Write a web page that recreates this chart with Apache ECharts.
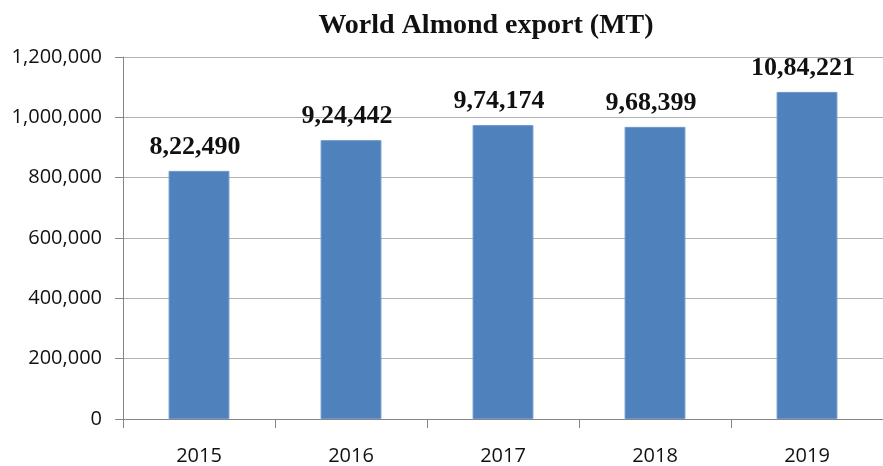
<!DOCTYPE html>
<html>
<head>
<meta charset="utf-8">
<script src="https://cdn.jsdelivr.net/npm/echarts@6/dist/echarts.min.js"></script>
<style>html,body{margin:0;padding:0;background:#fff}#c{width:883px;height:466px}</style>
</head>
<body>
<div id="c"></div>
<script>
const categories = ['2015', '2016', '2017', '2018', '2019'];
const exportsMT = [822490, 924442, 974174, 968399, 1084221];
const yTicks = { min: 0, max: 1200000, interval: 200000 };

function indian(n) {
  const s = String(Math.round(n));
  if (s.length <= 3) return s;
  let last3 = s.slice(-3), rest = s.slice(0, -3);
  rest = rest.replace(/\B(?=(\d{2})+(?!\d))/g, ',');
  return rest + ',' + last3;
}
function western(n) {
  return String(n).replace(/\B(?=(\d{3})+(?!\d))/g, ',');
}

const chart = echarts.init(document.getElementById('c'), null, { renderer: 'canvas' });
chart.setOption({
  animation: false,
  title: {
    text: 'World Almond export (MT)',
    left: 481, top: 7, textAlign: 'center',
    textStyle: { fontFamily: 'Liberation Serif', fontWeight: 'bold', fontSize: 28, color: '#111' }
  },
  grid: { left: 123, right: -3, top: 57, bottom: 46, containLabel: false },
  xAxis: {
    type: 'category', data: categories,
    axisLine: { lineStyle: { color: '#868686', width: 1 } },
    axisTick: { show: true, length: 9, lineStyle: { color: '#868686' } },
    axisLabel: { margin: 27, fontFamily: 'Open Sans', fontSize: 20, color: '#111' }
  },
  yAxis: {
    type: 'value', min: yTicks.min, max: yTicks.max, interval: yTicks.interval,
    axisLine: { show: true, lineStyle: { color: '#868686', width: 1 } },
    axisTick: { show: true, length: 8, lineStyle: { color: '#868686' } },
    splitLine: { lineStyle: { color: '#b3b3b3', width: 1 } },
    axisLabel: { margin: 21, fontFamily: 'Open Sans', fontSize: 20, color: '#111', formatter: v => western(v) }
  },
  series: [{
    type: 'bar', data: exportsMT, barWidth: '40%',
    itemStyle: { color: '#4f81bd', borderColor: '#6f97c9', borderWidth: 1 },
    label: {
      show: true, position: 'top', distance: 11, offset: [-4, 0],
      fontFamily: 'Liberation Serif', fontWeight: 'bold', fontSize: 26, color: '#111',
      formatter: p => indian(p.value)
    }
  }]
});
</script>
</body>
</html>
